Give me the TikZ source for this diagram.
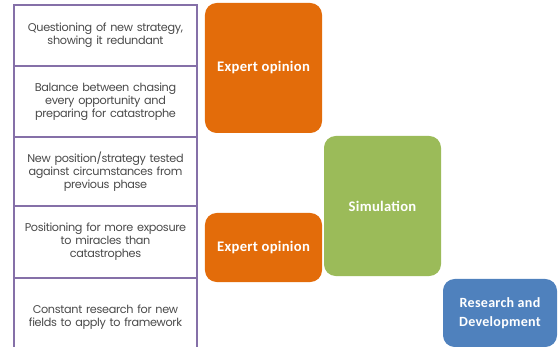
\documentclass[tikz,border=0pt]{standalone}
\usepackage{fontspec}
\setmainfont{Carlito}
\newfontfamily\gothicfont{Poppins}
\definecolor{phaseline}{HTML}{8570A8}
\definecolor{phasetext}{HTML}{4A4A4A}
\definecolor{expertorange}{HTML}{E36C0A}
\definecolor{simgreen}{HTML}{9BBB59}
\definecolor{rdblue}{HTML}{4F81BD}

\tikzset{
  phasebox/.style={draw=phaseline,line width=1pt,fill=white,minimum width=5.49cm,
    text width=5.4cm,align=center,text=phasetext,inner xsep=0pt,
    font=\gothicfont\fontsize{9.6}{11.2}\selectfont\addfontfeatures{LetterSpace=-3}},
  methodbox/.style={rounded corners=10pt,text=white,align=center,
    font=\fontsize{12.5}{15.5}\selectfont\bfseries\addfontfeatures{LetterSpace=2},inner sep=0pt}
}

\begin{document}
\begin{tikzpicture}[x={(0.03cm,0cm)}, y={(0cm,-0.03cm)}]
  \useasboundingbox (0,0) rectangle (558,347);
  \clip (0,0) rectangle (558,347);

  % Phases
  \node[phasebox,minimum height=1.83cm] (Phase1) at (105.5,35.5)
    {Questioning of new strategy,\\showing it redundant};
  \node[phasebox,minimum height=2.13cm] (Phase2) at (105.5,101.5)
    {Balance between chasing\\every opportunity and\\preparing for catastrophe};
  \node[phasebox,minimum height=2.07cm] (Phase3) at (105.5,171.5)
    {New position/strategy tested\\against circumstances from\\previous phase};
  \node[phasebox,minimum height=2.16cm] (Phase4) at (105.5,242)
    {Positioning for more exposure\\to miracles than\\catastrophes};
  \node[phasebox,minimum height=2.34cm] (Phase5) at (105.5,317)
    {Constant research for new\\fields to apply to framework};

  % Methods
  \node[methodbox,fill=expertorange,minimum width=3.51cm,minimum height=3.9cm]
    (Expert1) at (263.5,68) {Expert opinion};
  \node[methodbox,fill=expertorange,minimum width=3.51cm,minimum height=2.07cm]
    (Expert2) at (263.5,247.5) {Expert opinion};
  \node[methodbox,fill=simgreen,minimum width=3.51cm,minimum height=4.2cm]
    (Sim) at (382.5,206) {Simulation};
  \node[methodbox,fill=rdblue,minimum width=3.42cm,minimum height=2.04cm,
    font=\fontsize{12}{16.5}\selectfont\bfseries\addfontfeatures{LetterSpace=2}] (RandD) at (500,313)
    {Research and\\Development};
\end{tikzpicture}
\end{document}
